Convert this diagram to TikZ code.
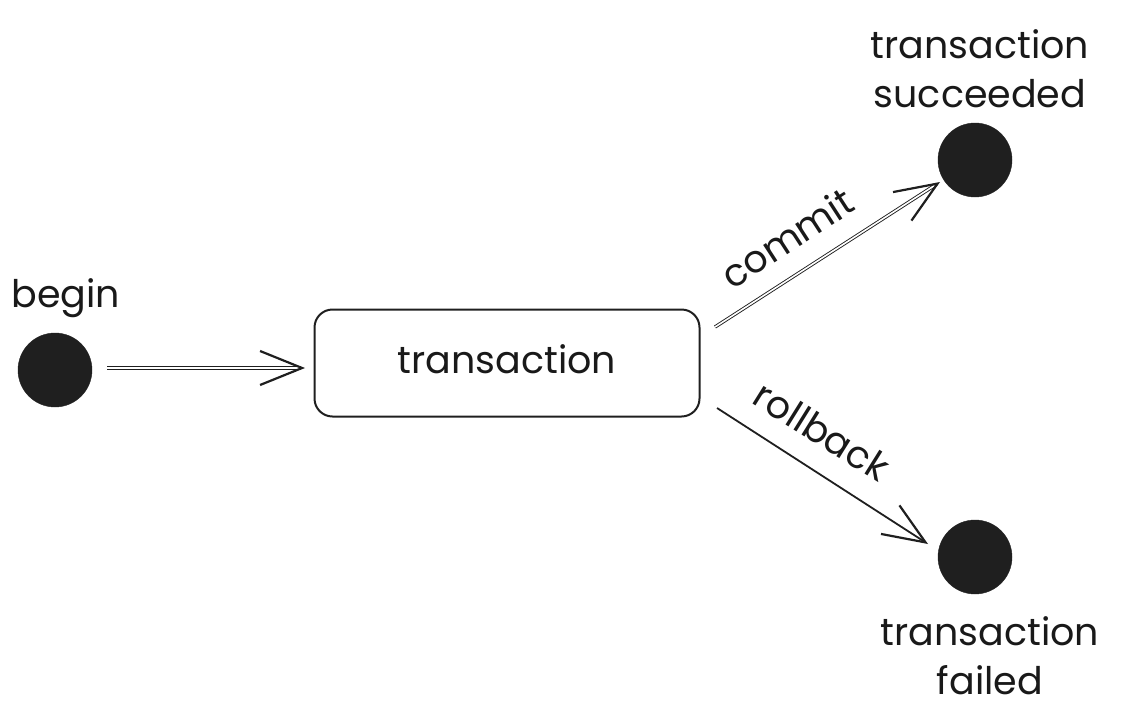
\documentclass[tikz,border=0pt]{standalone}
\usepackage{fontspec}
\setmainfont{Poppins}
\usetikzlibrary{arrows.meta}
\begin{document}
\begin{tikzpicture}[x=1pt,y=-1pt,
  lbl/.style={font=\fontsize{38}{49}\selectfont, text=black!90, align=center, inner sep=0pt},
  dot/.style={circle, fill=black!88, draw=black!88, minimum size=74pt, inner sep=0pt},
  tip/.style={-{Straight Barb[length=42pt,width=34pt,line width=2.2pt]}},
  conn/.style={draw=black!88, line width=0.9pt, double=white, double distance=1.6pt, tip},
  connthin/.style={draw=black!88, line width=1.8pt, tip},
  statebox/.style={draw=black!88, line width=2pt, rounded corners=18pt, minimum width=385pt, minimum height=107pt, inner sep=0pt}
]
\useasboundingbox (0,0) rectangle (1124,726);
\node[dot] (begin) at (55,370) {};
\node[lbl] (beginlbl) at (66,298) {begin};
\node[statebox] (tx) at (507,363) {};
\node[lbl] (txlbl) at (507,359) {transaction};
\node[dot] (succ) at (975,160) {};
\node[lbl] (succlbl) at (980,69) {transaction\\succeeded};
\node[dot] (fail) at (975,557) {};
\node[lbl] (faillbl) at (990,656) {transaction\\failed};
\coordinate (c1) at (715,327);
\coordinate (c2) at (717,408);
\coordinate (b0) at (107,368);
\coordinate (b1) at (305,368);
\coordinate (s1) at (940,182);
\coordinate (f1) at (928,544);
\draw[conn] (b0) -- (b1);
\draw[conn] (c1) -- (s1);
\draw[connthin] (c2) -- (f1);
\node[lbl, rotate=33] (commitlbl) at (787,238) {commit};
\node[lbl, rotate=-32] (rollbacklbl) at (822,431) {rollback};
\end{tikzpicture}
\end{document}
